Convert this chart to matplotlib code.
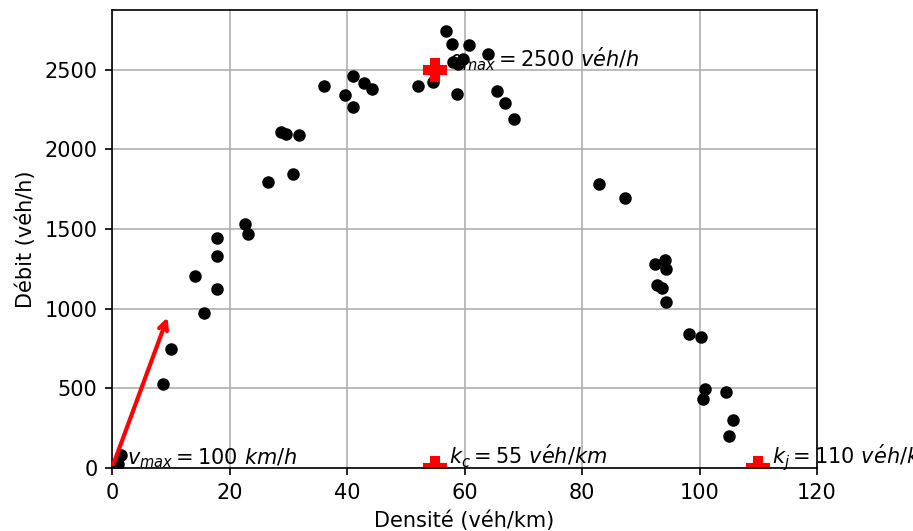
import matplotlib
matplotlib.use('Agg')
import matplotlib.pyplot as plt

# densite (veh/km) et debit (veh/h) mesures
densite = [1.1, 1.5, 8.7, 10.1, 15.6, 14.2, 17.8, 17.9, 17.8, 22.7, 23.2,
           26.6, 30.8, 28.7, 29.7, 31.9, 36.0, 39.7, 41.0, 41.1, 42.9, 44.3,
           52.0, 54.6, 56.8, 57.9, 60.8, 64.0, 58.0, 59.7, 58.9, 58.7, 65.6,
           66.9, 68.4, 82.9, 87.4, 92.5, 94.2, 94.3, 92.7, 93.7, 94.3, 98.2,
           100.3, 100.9, 100.6, 104.5, 105.7, 105.1]
debit = [23, 82, 527, 747, 976, 1207, 1121, 1329, 1442, 1530, 1471,
         1797, 1845, 2108, 2099, 2093, 2395, 2343, 2460, 2267, 2414, 2382,
         2395, 2420, 2741, 2664, 2657, 2601, 2550, 2570, 2535, 2345, 2364,
         2294, 2190, 1782, 1692, 1283, 1304, 1251, 1146, 1127, 1039, 839,
         823, 493, 436, 480, 300, 201]

vmax = 100   # km/h
qmax = 2500  # veh/h
kc = 55      # veh/km
kj = 110     # veh/km

DPI = 150
fig = plt.figure(figsize=(913/DPI, 531/DPI), dpi=DPI)
ax = fig.add_axes([112/913, 63/531, 705/913, 458/531])

ax.plot(densite, debit, 'ko', markersize=5)

# points caracteristiques
ax.plot(kc, qmax, 'rP', markersize=11)
ax.plot(kc, 0, 'rP', markersize=11)
ax.plot(kj, 0, 'rP', markersize=11)

ax.annotate('', xy=(9.7, vmax*9.7), xytext=(0, 0),
            arrowprops=dict(arrowstyle='->', color='red', lw=2))

ax.text(kc + 2.3, qmax + 20, r'$q_{max} = 2500\ v\acute{e}h/h$')
ax.text(2.6, 25, r'$v_{max} = 100\ km/h$')
ax.text(kc + 2.4, 25, r'$k_c = 55\ v\acute{e}h/km$')
ax.text(kj + 2.4, 25, r'$k_j = 110\ v\acute{e}h/km$', clip_on=False)

ax.set_xlim(0, 120)
ax.set_ylim(0, 2875)
ax.set_xlabel('Densité (véh/km)')
ax.set_ylabel('Débit (véh/h)')
ax.grid(True)

fig.savefig('out.png', dpi=DPI)
